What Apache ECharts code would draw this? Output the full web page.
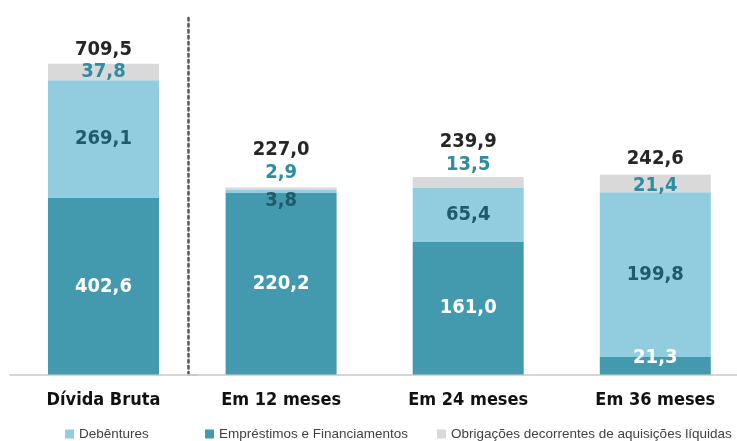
<!DOCTYPE html>
<html>
<head>
<meta charset="utf-8">
<script src="https://cdn.jsdelivr.net/npm/echarts@6/dist/echarts.min.js"></script>
<style>
html,body{margin:0;padding:0;background:#fff;}
#chart{width:737px;height:441px;}
</style>
</head>
<body>
<div id="chart"></div>
<script>
var categoriesA = ['Dívida Bruta'];
var categoriesB = ['Em 12 meses', 'Em 24 meses', 'Em 36 meses'];
var emprestimosA = [402.6];
var debenturesA = [269.1];
var obrigacoesA = [37.8];
var totalA = [709.5];
var emprestimosB = [220.2, 161.0, 21.3];
var debenturesB = [3.8, 65.4, 199.8];
var obrigacoesB = [2.9, 13.5, 21.4];
var totalB = [227.0, 239.9, 242.6];

var NARROW = "'Liberation Sans Narrow', 'Arial Narrow', 'DejaVu Sans Condensed', sans-serif";
var C_EMP = '#4399ae', C_DEB = '#92cddf', C_OBR = '#d9d9d9';
var fmt = function (v) { return v.toFixed(1).replace('.', ','); };

function lbl(color, extra) {
  var o = { show: true, color: color, fontFamily: NARROW, fontWeight: 'bold', fontSize: 20,
    formatter: function (p) { return fmt(p.value); } };
  for (var k in extra) o[k] = extra[k];
  return o;
}
// grid B uses a leading empty slot so that ticks (boundaryGap:false) sit at the bar centres
function items(vals, cfgs, lead) {
  var arr = vals.map(function (v, i) {
    var d = { value: v };
    if (cfgs && cfgs[i]) d.label = cfgs[i];
    return d;
  });
  return lead ? ['-'].concat(arr) : arr;
}

var chart = echarts.init(document.getElementById('chart'));
var barW = 111;
var catLabel = { color: '#111', fontFamily: NARROW, fontWeight: 'bold', fontSize: 18, margin: 17 };
var legendText = { fontFamily: "'Liberation Sans', Arial, sans-serif", fontSize: 13.5, color: '#404040' };
var option = {
  animation: false,
  grid: [
    { left: 10, width: 187, top: 17, height: 357.5 },
    { left: 94, width: 561.3, top: 17, height: 357.5 },
    { left: 188, right: 0, top: 17, height: 357.5 }
  ],
  xAxis: [
    { type: 'category', gridIndex: 0, data: categoriesA, axisTick: { show: false },
      axisLine: { show: true, lineStyle: { color: '#c8c8c8', width: 1.5 } }, axisLabel: catLabel },
    { type: 'category', gridIndex: 1, data: [''].concat(categoriesB), boundaryGap: false,
      axisTick: { show: false }, axisLine: { show: false }, axisLabel: catLabel },
    { type: 'category', gridIndex: 2, data: categoriesB, axisTick: { show: false },
      axisLabel: { show: false }, axisLine: { show: true, lineStyle: { color: '#c8c8c8', width: 1.5 } } }
  ],
  yAxis: [
    { type: 'value', gridIndex: 0, min: 0, max: 816, show: false, splitLine: { show: false } },
    { type: 'value', gridIndex: 1, min: 0, max: 434, show: false, splitLine: { show: false } },
    { type: 'value', gridIndex: 2, min: 0, max: 434, splitLine: { show: false },
      axisLabel: { show: false }, axisTick: { show: false },
      axisLine: { show: true, lineStyle: { color: '#555', width: 2.5, type: [2.5, 3.5] } } }
  ],
  legend: [
    { data: ['Debêntures'], left: 65, top: 427, padding: 0, icon: 'rect', itemWidth: 9, itemHeight: 9, itemGap: 0,
      textStyle: legendText },
    { data: ['Empréstimos e Financiamentos'], left: 205, top: 427, padding: 0, icon: 'rect', itemWidth: 9, itemHeight: 9,
      textStyle: legendText },
    { data: ['Obrigações decorrentes de aquisições líquidas'], left: 437, top: 427, padding: 0, icon: 'rect', itemWidth: 9, itemHeight: 9,
      textStyle: legendText }
  ],
  series: [
    { name: 'Empréstimos e Financiamentos', type: 'bar', stack: 'a', xAxisIndex: 0, yAxisIndex: 0, barWidth: barW,
      itemStyle: { color: C_EMP }, label: lbl('#ffffff', { position: 'inside' }), data: items(emprestimosA) },
    { name: 'Debêntures', type: 'bar', stack: 'a', xAxisIndex: 0, yAxisIndex: 0, barWidth: barW,
      itemStyle: { color: C_DEB }, label: lbl('#1f5a6b', { position: 'inside' }), data: items(debenturesA) },
    { name: 'Obrigações decorrentes de aquisições líquidas', type: 'bar', stack: 'a', xAxisIndex: 0, yAxisIndex: 0, barWidth: barW,
      itemStyle: { color: C_OBR }, label: lbl('#2f8ca3', { position: 'inside' }), data: items(obrigacoesA) },
    { name: 'TotalA', type: 'bar', xAxisIndex: 0, yAxisIndex: 0, barWidth: barW, barGap: '-100%', z: 1,
      itemStyle: { color: 'rgba(0,0,0,0)' }, label: lbl('#262626', { position: 'top', distance: 4 }), data: items(totalA) },

    { name: 'Empréstimos e Financiamentos', type: 'bar', stack: 'b', xAxisIndex: 1, yAxisIndex: 1, barWidth: barW,
      itemStyle: { color: C_EMP }, label: lbl('#ffffff', { position: 'inside' }),
      data: items(emprestimosB, [null, null, { offset: [0, -8] }], true) },
    { name: 'Debêntures', type: 'bar', stack: 'b', xAxisIndex: 1, yAxisIndex: 1, barWidth: barW,
      itemStyle: { color: C_DEB }, label: lbl('#1f5a6b', { position: 'inside' }),
      data: items(debenturesB, [{ offset: [0, 9] }, null, null], true) },
    { name: 'Obrigações decorrentes de aquisições líquidas', type: 'bar', stack: 'b', xAxisIndex: 1, yAxisIndex: 1, barWidth: barW,
      itemStyle: { color: C_OBR }, label: lbl('#2f8ca3', { position: 'inside' }),
      data: items(obrigacoesB, [{ position: 'top', distance: 5 }, { position: 'top', distance: 2 }, { offset: [0, 2] }], true) },
    { name: 'TotalB', type: 'bar', xAxisIndex: 1, yAxisIndex: 1, barWidth: barW, barGap: '-100%', z: 1,
      itemStyle: { color: 'rgba(0,0,0,0)' }, label: lbl('#262626', { position: 'top' }),
      data: items(totalB, [{ distance: 28 }, { distance: 25 }, { distance: 6 }], true) }
  ]
};
chart.setOption(option);
</script>
</body>
</html>
